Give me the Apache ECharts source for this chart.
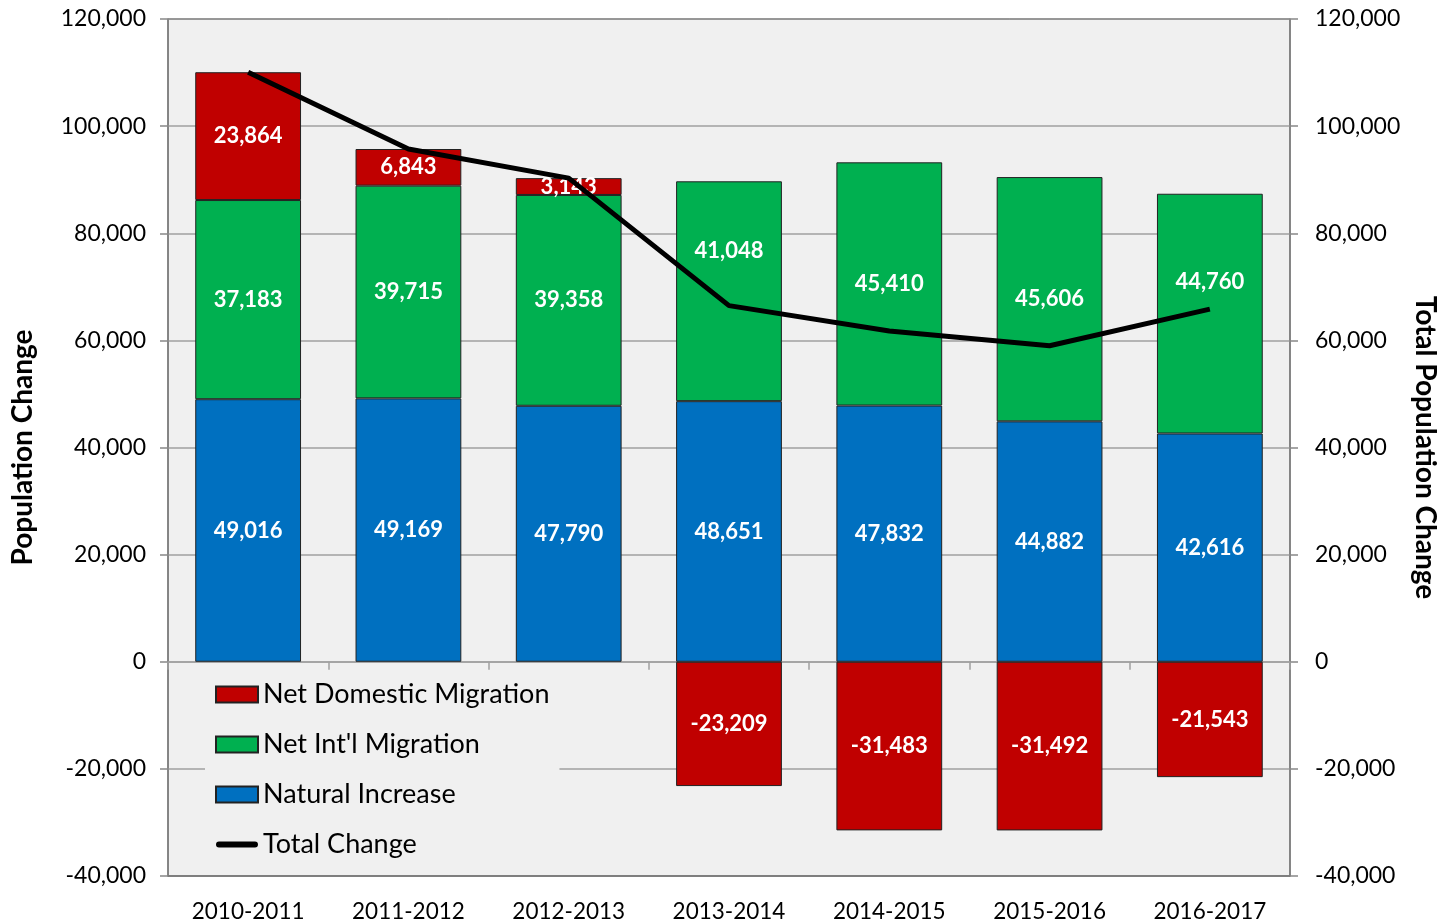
<!DOCTYPE html>
<html>
<head>
<meta charset="utf-8">
<script src="https://cdn.jsdelivr.net/npm/echarts@6/dist/echarts.min.js"></script>
<style>
  html, body { margin: 0; padding: 0; background: #fff; }
  #chart { width: 1439px; height: 922px; }
</style>
</head>
<body>
<div id="chart"></div>
<script>
const years = ['2010-2011', '2011-2012', '2012-2013', '2013-2014', '2014-2015', '2015-2016', '2016-2017'];
const naturalIncrease = [49016, 49169, 47790, 48651, 47832, 44882, 42616];
const netIntlMigration = [37183, 39715, 39358, 41048, 45410, 45606, 44760];
const netDomesticMigration = [23864, 6843, 3143, -23209, -31483, -31492, -21543];
const totalChange = [110063, 95727, 90291, 66490, 61759, 58996, 65833];

const FONT = 'Lato';

var chartDom = document.getElementById('chart');
var myChart = echarts.init(chartDom);

function barLabel() {
    return {
        show: true,
        position: 'inside',
        color: '#fff',
        fontFamily: FONT,
        fontWeight: 'bold',
        fontSize: 22,
        formatter: function (p) {
            return p.value.toLocaleString('en-US');
        }
    };
}

// a couple of labels were nudged up in the original so the line doesn't cross them
function intlData() {
    const nudge = {3: -40, 6: -32};
    return netIntlMigration.map(function (v, i) {
        if (nudge[i] === undefined) return v;
        return {value: v, label: {offset: [0, nudge[i]]}};
    });
}

function valueAxis(pos) {
    return {
        type: 'value',
        position: pos,
        min: -40000,
        max: 120000,
        interval: 20000,
        axisLine: {show: true, lineStyle: {color: '#888', width: 1.5}},
        axisTick: {show: true, length: 8, lineStyle: {color: '#888', width: 1.5}},
        axisLabel: {
            color: '#000', fontFamily: FONT, fontSize: 23, margin: pos === 'left' ? 22 : 25,
            formatter: function (v) { return v.toLocaleString('en-US'); }
        },
        splitLine: {show: pos === 'left', lineStyle: {color: '#a0a0a0', width: 1.5}},
        nameLocation: 'middle',
        nameTextStyle: {color: '#000', fontFamily: FONT, fontWeight: 'bold', fontSize: 28}
    };
}

// icon of a thick rounded line, padded so it keeps its proportion in the legend box
const lineIcon = 'path://M0,0 h0.01 v0.01 h-0.01 Z M42,16 h0.01 v0.01 h-0.01 Z ' +
    'M3,5 H39 A3,3 0 0 1 39,11 H3 A3,3 0 0 1 3,5 Z';

var option = {
    animation: false,
    backgroundColor: '#fff',
    grid: {
        left: 168, right: 149, top: 19, bottom: 46,
        outerBoundsMode: 'none',
        show: true, backgroundColor: '#f0f0f0', borderColor: '#000', borderWidth: 1,
        containLabel: false
    },
    legend: {
        orient: 'vertical',
        left: 205, top: 675,
        padding: [6, 10, 6, 10],
        backgroundColor: '#f0f0f0',
        itemWidth: 42, itemHeight: 16, itemGap: 23,
        textStyle: {fontFamily: FONT, fontSize: 27, color: '#000'},
        data: [
            {name: 'Net Domestic Migration', icon: 'rect'},
            {name: "Net Int'l Migration", icon: 'rect'},
            {name: 'Natural Increase', icon: 'rect'},
            {name: 'Total Change', icon: lineIcon, itemStyle: {color: '#000', borderWidth: 0}}
        ]
    },
    xAxis: [
        {
            type: 'category',
            data: years,
            position: 'bottom',
            axisLine: {onZero: true, lineStyle: {color: '#a0a0a0', width: 1.5}},
            axisTick: {show: true, length: 8, lineStyle: {color: '#a0a0a0', width: 1.5}},
            axisLabel: {show: false}
        },
        {
            type: 'category',
            data: years,
            position: 'bottom',
            axisLine: {onZero: false, lineStyle: {color: '#777', width: 1.5}},
            axisTick: {show: false},
            axisLabel: {color: '#000', fontFamily: FONT, fontSize: 22.5, margin: 24}
        }
    ],
    yAxis: [
        Object.assign(valueAxis('left'), {name: 'Population Change', nameGap: 131, nameRotate: 90}),
        Object.assign(valueAxis('right'), {name: 'Total Population Change', nameGap: 112, nameRotate: -90})
    ],
    series: [
        {
            name: 'Natural Increase', type: 'bar', stack: 'pop', barWidth: '66%',
            itemStyle: {color: '#0070C0', borderColor: '#222', borderWidth: 1},
            label: barLabel(),
            data: naturalIncrease
        },
        {
            name: "Net Int'l Migration", type: 'bar', stack: 'pop',
            itemStyle: {color: '#00B050', borderColor: '#222', borderWidth: 1},
            label: barLabel(),
            data: intlData()
        },
        {
            name: 'Net Domestic Migration', type: 'bar', stack: 'pop',
            itemStyle: {color: '#C00000', borderColor: '#222', borderWidth: 1},
            label: barLabel(),
            data: netDomesticMigration
        },
        {
            name: 'Total Change', type: 'line', yAxisIndex: 1,
            symbol: 'none', showSymbol: false,
            lineStyle: {color: '#000', width: 5},
            itemStyle: {color: '#000'},
            z: 5,
            data: totalChange
        }
    ]
};

option && myChart.setOption(option);
</script>
</body>
</html>
